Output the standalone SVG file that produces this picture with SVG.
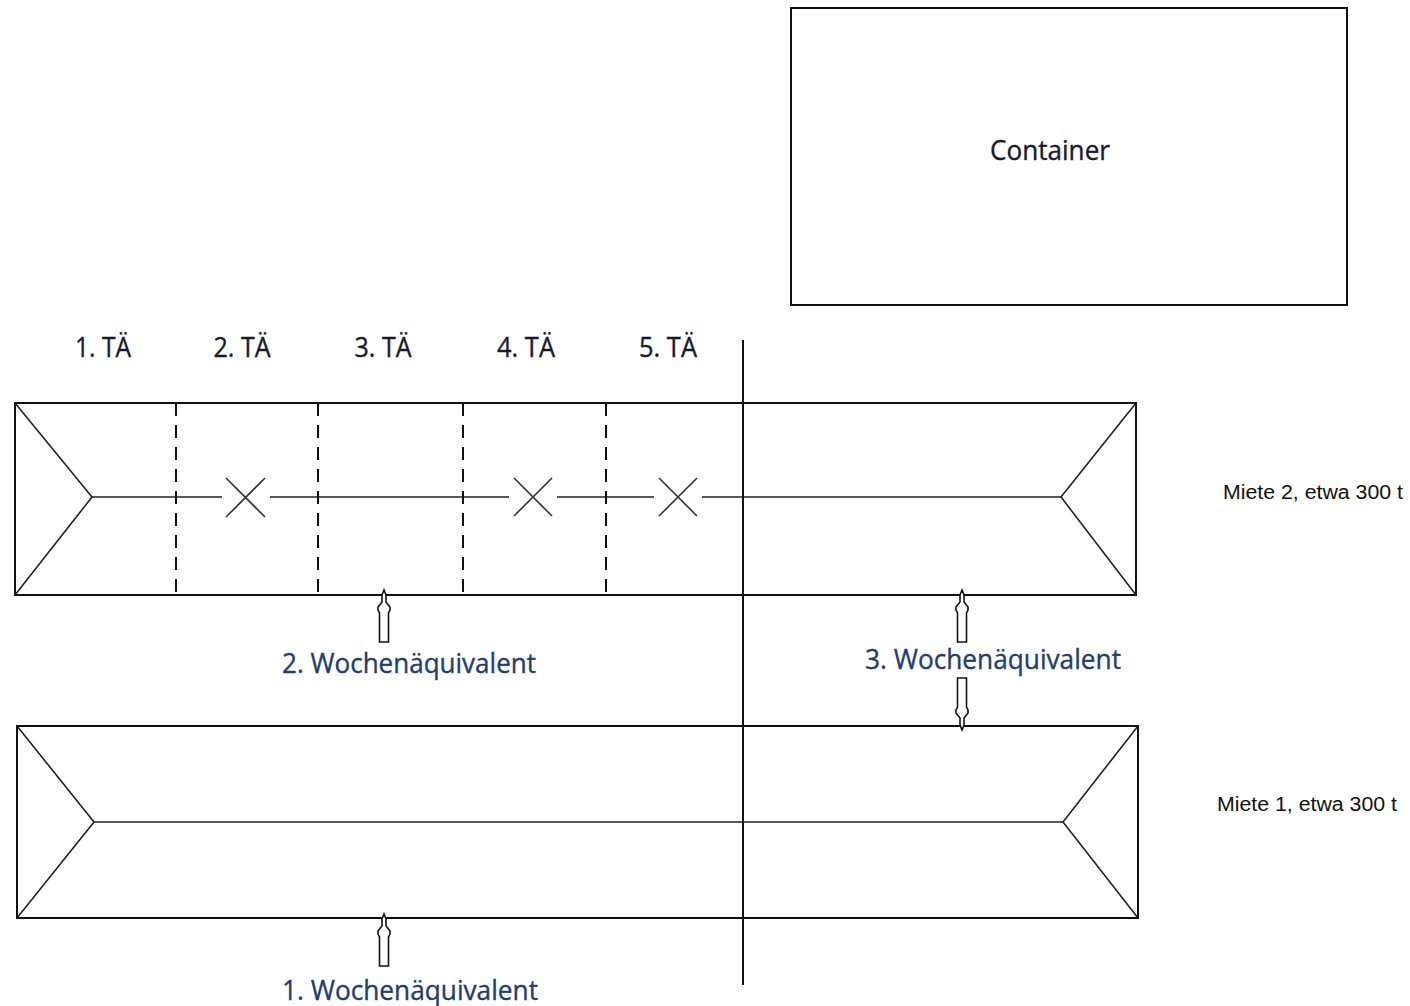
<svg xmlns="http://www.w3.org/2000/svg" width="1410" height="1006" viewBox="0 0 1410 1006">
<style>
.box{fill:none;stroke:#111;stroke-width:2}
.thin{fill:none;stroke:#222;stroke-width:1.6}
.dash{fill:none;stroke:#111;stroke-width:2;stroke-dasharray:13 9}
.x{fill:none;stroke:#333;stroke-width:1.6}
.arr{fill:#fff;stroke:#111;stroke-width:1.6;stroke-linejoin:miter}
.lbl{font-family:"Open Sans","Noto Sans",sans-serif;font-size:27px;fill:#171a2c;stroke:#171a2c;stroke-width:0.35;text-anchor:middle}
.wk{font-family:"Open Sans","Noto Sans",sans-serif;font-size:27px;fill:#233d6c;stroke:#233d6c;stroke-width:0.35;text-anchor:middle}
.miete{font-family:"Liberation Sans",Arial,sans-serif;font-size:20px;fill:#111;text-anchor:middle}
</style>
<defs>
<path id="arrowUp" d="M0,0 L-2,5 L-2,12 L-6,17 L-6,20 L-4.5,23 L-4.5,52 L4.5,52 L4.5,23 L6,20 L6,17 L2,12 L2,5 Z"/>
</defs>
<g id="container">
<rect class="box" x="791" y="8" width="556" height="297"/>
<text class="lbl" x="1050" y="160" textLength="120" lengthAdjust="spacingAndGlyphs">Container</text>
</g>
<g id="labels-ta">
<text class="lbl" x="103" y="357" textLength="56" lengthAdjust="spacingAndGlyphs">1. TÄ</text>
<text class="lbl" x="242" y="357" textLength="57" lengthAdjust="spacingAndGlyphs">2. TÄ</text>
<text class="lbl" x="383" y="357" textLength="57" lengthAdjust="spacingAndGlyphs">3. TÄ</text>
<text class="lbl" x="526" y="357" textLength="58" lengthAdjust="spacingAndGlyphs">4. TÄ</text>
<text class="lbl" x="668" y="357" textLength="58" lengthAdjust="spacingAndGlyphs">5. TÄ</text>
</g>
<g id="miete2">
<rect class="box" x="15" y="403" width="1121" height="192"/>
<polyline class="thin" points="15,403 92,497 15,595"/>
<polyline class="thin" points="1136,403 1061,497 1136,595"/>
<path class="thin" d="M92,497 H222 M270,497 H509 M557,497 H654 M702,497 H1061"/>
<path class="x" d="M226,478 L265,517 M265,478 L226,517 M514,478 L552,516 M552,478 L514,516 M659,478 L697,516 M697,478 L659,516"/>
<path class="dash" d="M176,403 V595 M318,403 V595 M463,403 V595 M606,403 V595"/>
<text class="miete" x="1313" y="499" textLength="180" lengthAdjust="spacingAndGlyphs">Miete 2, etwa 300 t</text>
</g>
<g id="miete1">
<rect class="box" x="17" y="726" width="1121" height="192"/>
<polyline class="thin" points="17,726 94,822 17,918"/>
<polyline class="thin" points="1138,726 1063,822 1138,918"/>
<line class="thin" x1="94" y1="822" x2="1063" y2="822"/>
<text class="miete" x="1307" y="811" textLength="180" lengthAdjust="spacingAndGlyphs">Miete 1, etwa 300 t</text>
</g>
<g id="connectors">
<line x1="743" y1="340" x2="743" y2="985" stroke="#111" stroke-width="2"/>
<use href="#arrowUp" class="arr" transform="translate(384,590)"/>
<use href="#arrowUp" class="arr" transform="translate(962,590)"/>
<use href="#arrowUp" class="arr" transform="translate(962,730) scale(1,-1)"/>
<use href="#arrowUp" class="arr" transform="translate(384,914)"/>
</g>
<g id="week-labels">
<text class="wk" x="409" y="673" textLength="254" lengthAdjust="spacingAndGlyphs">2. Wochenäquivalent</text>
<text class="wk" x="993" y="669" textLength="256" lengthAdjust="spacingAndGlyphs">3. Wochenäquivalent</text>
<text class="wk" x="410" y="1000" textLength="256" lengthAdjust="spacingAndGlyphs">1. Wochenäquivalent</text>
</g>
</svg>
